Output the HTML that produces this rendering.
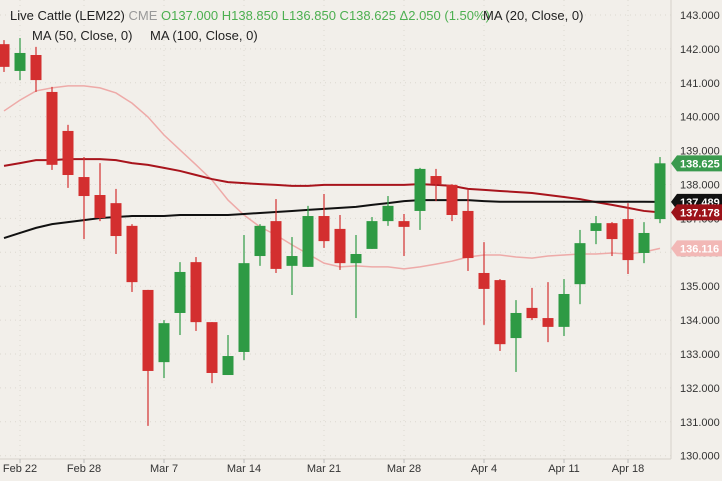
<!DOCTYPE html>
<html><head><meta charset="utf-8">
<style>
html,body{margin:0;padding:0;background:#f2efea;}
body{width:722px;height:481px;overflow:hidden;position:relative;font-family:"Liberation Sans",sans-serif;}
svg{position:absolute;left:0;top:0;}
</style></head>
<body>
<svg id="chart" width="722" height="481">
<rect x="0" y="0" width="722" height="481" fill="#f2efea"/>
<g id="grid"></g>
<g id="mas"></g>
<g id="candles"></g>
<line x1="671" y1="0" x2="671" y2="459" stroke="#d6d2cb"/>
<line x1="0" y1="459" x2="671" y2="459" stroke="#d6d2cb"/>
<g id="yaxis"></g>
<g id="xaxis"></g>
<g id="tags"></g>
<text x="10" y="20" font-size="13" fill="#222">Live Cattle (LEM22) <tspan fill="#999">CME</tspan> <tspan fill="#4caf50">O137.000 H138.850 L136.850 C138.625 Δ2.050 (1.50%)</tspan></text>
<text x="483" y="20" font-size="13" fill="#222">MA (20, Close, 0)</text>
<text x="32" y="40" font-size="13" fill="#222">MA (50, Close, 0)</text>
<text x="150" y="40" font-size="13" fill="#222">MA (100, Close, 0)</text>
</svg>
<script>
const opens=[142.14,141.35,141.82,140.73,139.58,138.22,137.69,137.45,136.78,134.89,132.76,134.21,135.71,133.94,132.38,133.06,135.89,136.92,135.60,135.57,137.07,136.69,135.68,136.10,136.92,136.92,137.22,138.25,137.99,137.22,135.39,135.18,133.47,134.36,134.06,133.80,135.06,136.63,136.86,136.98,135.98,136.98];
const highs=[142.26,142.32,142.06,140.88,139.76,138.81,138.63,137.87,136.83,134.89,134.00,135.71,135.86,133.94,133.56,136.51,136.83,137.57,136.45,137.37,137.72,137.10,136.51,137.04,137.66,137.13,138.49,138.46,138.01,137.84,136.30,135.21,134.59,134.95,135.12,135.21,136.66,137.07,136.89,137.45,136.89,138.81];
const lows=[141.32,141.08,140.73,138.43,137.90,136.39,136.92,135.95,134.83,130.88,132.29,133.56,133.68,132.14,132.38,132.82,135.60,135.39,134.74,135.57,136.13,135.48,134.06,136.10,136.78,135.89,136.66,137.51,136.92,135.45,133.86,133.09,132.47,134.00,133.35,133.53,134.47,136.24,135.89,135.36,135.68,136.86];
const closes=[141.47,141.88,141.08,138.58,138.28,137.66,137.01,136.48,135.12,132.50,133.91,135.42,133.94,132.44,132.94,135.68,136.78,135.51,135.89,137.07,136.33,135.68,135.95,136.92,137.37,136.75,138.46,138.01,137.10,135.83,134.92,133.29,134.21,134.06,133.80,134.77,136.27,136.86,136.39,135.77,136.57,138.625];
const ma20=[140.17,140.49,140.76,140.85,140.91,140.91,140.85,140.70,140.40,139.99,139.46,139.02,138.58,138.13,137.54,137.10,136.75,136.51,136.22,135.95,135.68,135.57,135.60,135.57,135.57,135.51,135.57,135.65,135.74,135.86,135.92,135.92,135.86,135.83,135.89,135.92,135.95,135.95,135.98,135.95,136.01,136.116];
const ma50=[138.55,138.63,138.72,138.72,138.75,138.75,138.75,138.72,138.63,138.58,138.49,138.40,138.28,138.16,138.07,138.04,138.01,137.99,137.96,137.96,137.99,137.99,137.99,137.99,137.99,137.99,138.01,137.99,137.96,137.87,137.84,137.81,137.78,137.75,137.69,137.63,137.57,137.48,137.40,137.31,137.22,137.178];
const ma100=[136.42,136.57,136.72,136.83,136.89,136.95,137.01,137.04,137.07,137.07,137.07,137.10,137.10,137.10,137.10,137.13,137.16,137.19,137.22,137.25,137.28,137.31,137.34,137.40,137.45,137.51,137.54,137.54,137.54,137.54,137.51,137.49,137.49,137.49,137.49,137.49,137.49,137.49,137.49,137.49,137.49,137.489];
const priceTicks=[143,142,141,140,139,138,137,136,135,134,133,132,131,130];
const dateLabels=["Feb 22","Feb 28","Mar 7","Mar 14","Mar 21","Mar 28","Apr 4","Apr 11","Apr 18"];
const dateIndex=[1,5,10,15,20,25,30,35,39];

const NS="http://www.w3.org/2000/svg";
function y(p){return 15+(143-p)*33.9;}
function x(i){return 4+i*16;}
function mk(tag,attrs,parent){const e=document.createElementNS(NS,tag);for(const k in attrs)e.setAttribute(k,attrs[k]);parent.appendChild(e);return e;}
const grid=document.getElementById('grid'),yaxis=document.getElementById('yaxis'),xaxis=document.getElementById('xaxis');
priceTicks.forEach(p=>{
  const l=mk('line',{x1:0,x2:671,y1:y(p),y2:y(p),stroke:'#dcd8d0','stroke-dasharray':'1,4'},grid);
  
  
  const t=mk('text',{x:680,y:y(p)+4,'font-size':11,fill:'#333'},yaxis);
  t.textContent=p.toFixed(3);
  
  
});
dateLabels.forEach((d,k)=>{
  const xx=x(dateIndex[k]);
  const l=mk('line',{x1:xx,x2:xx,y1:0,y2:459,stroke:'#dcd8d0','stroke-dasharray':'1,4'},grid);
  
  
  const tk=mk('line',{x1:xx,x2:xx,y1:459,y2:463,stroke:'#bbb'},xaxis);
  
  
  const t=mk('text',{x:xx,y:472,'font-size':11,fill:'#333','text-anchor':'middle'},xaxis);
  t.textContent=d;
  
  
});
const mas=document.getElementById('mas');
[[ma20,'#eeaaa8',1.5,'ma20-line'],[ma50,'#a8141c',2,'ma50-line'],[ma100,'#111',2,'ma100-line']].forEach(s=>{
  const pts=s[0].map((v,i)=>x(i)+','+y(v)).join(' ');
  const pl=mk('polyline',{points:pts,fill:'none',stroke:s[1],'stroke-width':s[2]},mas);
  
  
});
const cg=document.getElementById('candles');
opens.forEach((o,i)=>{
  const c=closes[i],up=c>=o,col=up?'#2e9a44':'#d32f2f';
  const g=mk('g',{},cg);
  
  
  mk('line',{x1:x(i),x2:x(i),y1:y(highs[i]),y2:y(lows[i]),stroke:col,'stroke-width':1.2},g);
  const top=y(Math.max(o,c)),bot=y(Math.min(o,c));
  mk('rect',{x:x(i)-5.5,y:top,width:11,height:Math.max(1,bot-top),fill:col},g);
});
const tags=document.getElementById('tags');
[[closes[41],'#3a9a4e','#fff','last-price-tag'],[ma100[41],'#111','#fff','ma100-tag'],[ma50[41],'#9c1219','#fff','ma50-tag'],[ma20[41],'#f2b8b6','#fff','ma20-tag']].forEach(t=>{
  const yy=y(t[0]);
  const g=mk('g',{},tags);
  
  
  mk('path',{d:`M671,${yy} L677,${yy-8} L722,${yy-8} L722,${yy+8} L677,${yy+8} Z`,fill:t[1]},g);
  const tx=mk('text',{x:680,y:yy+4,'font-size':11,'font-weight':'bold',fill:t[2]},g);
  tx.textContent=t[0].toFixed(3);
});
</script>
</body></html>
